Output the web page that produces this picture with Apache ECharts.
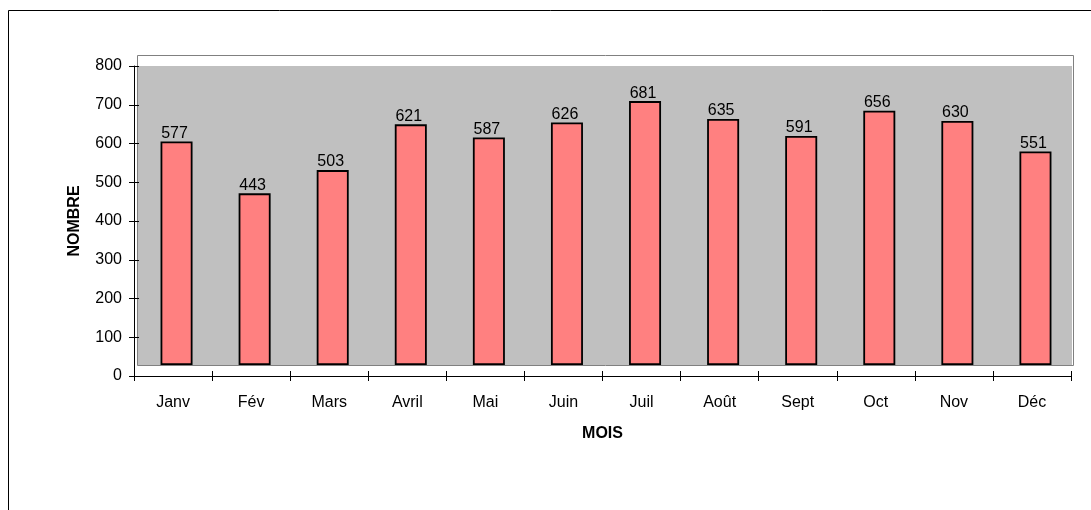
<!DOCTYPE html>
<html>
<head>
<meta charset="utf-8">
<script src="https://cdn.jsdelivr.net/npm/echarts@6/dist/echarts.min.js"></script>
<style>
  html, body { margin: 0; padding: 0; background: #fff; }
  #main { width: 1091px; height: 510px; }
</style>
</head>
<body>
<div id="main"></div>
<script>
var mois = ['Janv', 'Fév', 'Mars', 'Avril', 'Mai', 'Juin', 'Juil', 'Août', 'Sept', 'Oct', 'Nov', 'Déc'];
var nombre = [577, 443, 503, 621, 587, 626, 681, 635, 591, 656, 630, 551];
var yTicks = [0, 100, 200, 300, 400, 500, 600, 700, 800];

var font = 'Arial, "Liberation Sans", sans-serif';
var chart = echarts.init(document.getElementById('main'));

var option = {
  animation: false,
  backgroundColor: '#fff',
  // cadre + paroi du fond (effet 3D excel)
  graphic: [
    { type: 'rect', z: -10, shape: { x: 8.5, y: 10.5, width: 1200, height: 600 },
      style: { fill: '#fff', stroke: '#000', lineWidth: 1 } },
    { type: 'rect', z: -9, shape: { x: 137.5, y: 55.5, width: 936, height: 310 },
      style: { fill: '#fff', stroke: '#808080', lineWidth: 1 } },
    { type: 'rect', z: -8, shape: { x: 138, y: 66, width: 934, height: 299 },
      style: { fill: '#c0c0c0' } }
  ],
  grid: [
    { left: 134, right: 20, top: 66, bottom: 134 },
    { left: 137.5, right: 16.5, top: 55, bottom: 145 }
  ],
  xAxis: [
    {
      gridIndex: 0, type: 'category', data: mois,
      name: 'MOIS', nameLocation: 'middle', nameGap: 50,
      nameTextStyle: { fontFamily: font, fontSize: 16, fontWeight: 'bold', color: '#000' },
      axisLine: { lineStyle: { color: '#000', width: 1 } },
      axisTick: { show: true, length: 5, lineStyle: { color: '#000' } },
      axisLabel: { fontFamily: font, fontSize: 16, color: '#000', margin: 19 },
      splitLine: { show: false }
    },
    {
      // ticks vers l'interieur
      gridIndex: 0, type: 'category', data: mois, position: 'bottom',
      axisLine: { show: false },
      axisTick: { show: true, inside: true, length: 5, lineStyle: { color: '#000' } },
      axisLabel: { show: false },
      splitLine: { show: false }
    },
    {
      gridIndex: 1, type: 'category', data: mois, show: false
    }
  ],
  yAxis: [
    {
      gridIndex: 0, type: 'value', min: yTicks[0], max: yTicks[yTicks.length - 1], interval: 100,
      name: 'NOMBRE', nameLocation: 'middle', nameGap: 51,
      nameTextStyle: { fontFamily: font, fontSize: 16, fontWeight: 'bold', color: '#000' },
      axisLine: { show: true, lineStyle: { color: '#000', width: 1 } },
      axisTick: { show: true, length: 5, lineStyle: { color: '#000' } },
      axisLabel: { fontFamily: font, fontSize: 16, color: '#000', margin: 12 },
      splitLine: { show: false }
    },
    {
      gridIndex: 0, type: 'value', min: 0, max: 800, interval: 100, position: 'left',
      axisLine: { show: false },
      axisTick: { show: true, inside: true, length: 5, lineStyle: { color: '#000' } },
      axisLabel: { show: false },
      splitLine: { show: false }
    },
    {
      gridIndex: 1, type: 'value', min: 0, max: 800, show: false, splitLine: { show: false }
    }
  ],
  series: [
    {
      type: 'bar',
      xAxisIndex: 2,
      yAxisIndex: 2,
      data: nombre,
      barWidth: 32,
      itemStyle: { color: '#ff8080', borderColor: '#000', borderWidth: 1.8 },
      label: {
        show: true, position: 'top', distance: 0, offset: [-2, 0],
        fontFamily: font, fontSize: 16, color: '#000'
      }
    }
  ]
};
chart.setOption(option);
</script>
</body>
</html>
